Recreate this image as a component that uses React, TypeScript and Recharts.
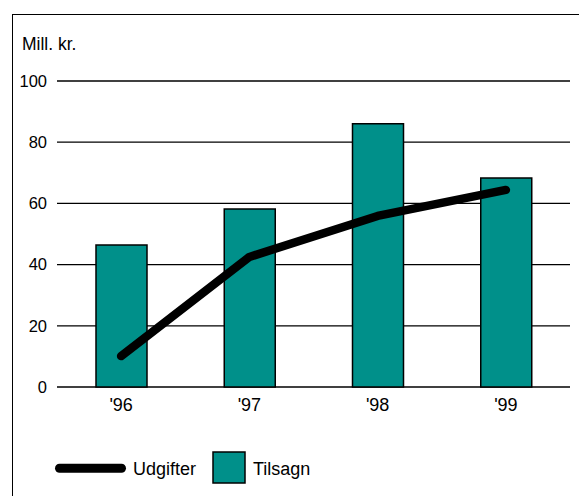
import { Bar, CartesianGrid, ComposedChart, Line, XAxis, YAxis } from "recharts"

const years = ["'96", "'97", "'98", "'99"]
const tilsagn = [46.4, 58.2, 86, 68.3]
const udgifter = [10.1, 42.5, 55.9, 64.4]
const yTicks = [0, 20, 40, 60, 80, 100]

const TEAL = "#00908a"
const FONT = "'Liberation Sans', Arial, sans-serif"

const data = years.map((year, i) => ({ year, tilsagn: tilsagn[i], udgifter: udgifter[i] }))

export default function App() {
  return (
    <div style={{ position: "absolute", left: 0, top: 0, width: 579, height: 496, overflow: "hidden", background: "#fff", fontFamily: FONT }}>
      {/* frame running off the right and bottom edge */}
      <div style={{ position: "absolute", left: 12, top: 14, width: 620, height: 540, border: "1px solid #000", boxSizing: "border-box" }} />
      <div style={{ position: "absolute", left: 22, top: 34, fontSize: 17.5, color: "#000" }}>Mill. kr.</div>
      <ComposedChart
        width={579}
        height={496}
        data={data}
        margin={{ top: 81, right: 9, bottom: 79, left: 0 }}
        style={{ position: "absolute", left: 0, top: 0 }}
      >
        <CartesianGrid horizontal vertical={false} stroke="#000" strokeWidth={1.3} />
        <XAxis
          dataKey="year"
          axisLine={false}
          tickLine={false}
          tickSize={0}
          tickMargin={11}
          tick={{ fill: "#000", fontSize: 18, fontFamily: FONT }}
        />
        <YAxis
          domain={[0, 100]}
          ticks={yTicks}
          width={57}
          axisLine={false}
          tickLine={false}
          tickSize={0}
          tickMargin={10}
          tick={{ fill: "#000", fontSize: 16.5, fontFamily: FONT }}
        />
        <Bar dataKey="tilsagn" fill={TEAL} stroke="#000" strokeWidth={1.5} barSize={51} isAnimationActive={false} />
        <Line
          dataKey="udgifter"
          stroke="#000"
          strokeWidth={8.5}
          strokeLinecap="round"
          strokeLinejoin="round"
          dot={false}
          activeDot={false}
          isAnimationActive={false}
        />
      </ComposedChart>
      {/* legend */}
      <svg width={300} height={40} style={{ position: "absolute", left: 50, top: 449 }}>
        <line x1={9.5} y1={19.3} x2={71.5} y2={19.3} stroke="#000" strokeWidth={9} strokeLinecap="round" />
        <text x={83} y={25.5} fontSize={18} fontFamily={FONT} fill="#000">Udgifter</text>
        <rect x={163} y={3} width={32} height={31} fill={TEAL} stroke="#000" strokeWidth={1.5} />
        <text x={203} y={25.5} fontSize={18} fontFamily={FONT} fill="#000">Tilsagn</text>
      </svg>
    </div>
  )
}
